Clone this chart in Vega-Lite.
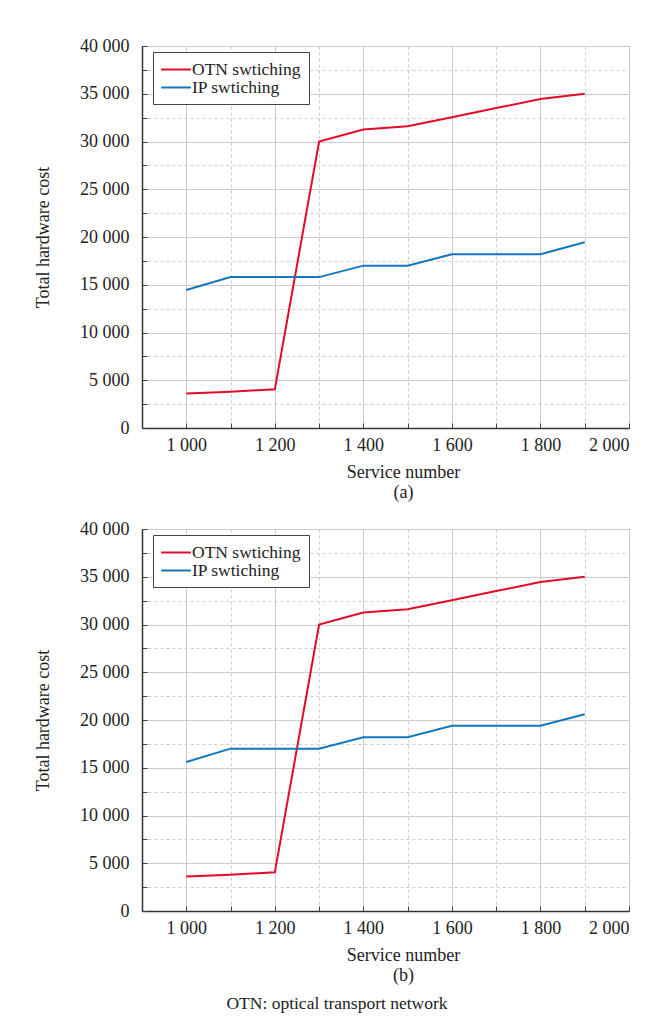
{
  "$schema": "https://vega.github.io/schema/vega-lite/v6.json",
  "padding": {"left": 34, "top": 36, "right": 5, "bottom": 5},
  "background": "white",
  "spacing": 17,
  "resolve": {"legend": {"color": "independent"}},
  "datasets": {
    "a": [
      {"service": 1000, "cost": 3600, "series": "OTN swtiching"},
      {"service": 1100, "cost": 3800, "series": "OTN swtiching"},
      {"service": 1200, "cost": 4050, "series": "OTN swtiching"},
      {"service": 1300, "cost": 30000, "series": "OTN swtiching"},
      {"service": 1400, "cost": 31250, "series": "OTN swtiching"},
      {"service": 1500, "cost": 31600, "series": "OTN swtiching"},
      {"service": 1600, "cost": 32550, "series": "OTN swtiching"},
      {"service": 1700, "cost": 33500, "series": "OTN swtiching"},
      {"service": 1800, "cost": 34450, "series": "OTN swtiching"},
      {"service": 1900, "cost": 35000, "series": "OTN swtiching"},
      {"service": 1000, "cost": 14450, "series": "IP swtiching"},
      {"service": 1100, "cost": 15800, "series": "IP swtiching"},
      {"service": 1200, "cost": 15800, "series": "IP swtiching"},
      {"service": 1300, "cost": 15800, "series": "IP swtiching"},
      {"service": 1400, "cost": 17000, "series": "IP swtiching"},
      {"service": 1500, "cost": 17000, "series": "IP swtiching"},
      {"service": 1600, "cost": 18200, "series": "IP swtiching"},
      {"service": 1700, "cost": 18200, "series": "IP swtiching"},
      {"service": 1800, "cost": 18200, "series": "IP swtiching"},
      {"service": 1900, "cost": 19450, "series": "IP swtiching"}
    ],
    "b": [
      {"service": 1000, "cost": 3600, "series": "OTN swtiching"},
      {"service": 1100, "cost": 3800, "series": "OTN swtiching"},
      {"service": 1200, "cost": 4050, "series": "OTN swtiching"},
      {"service": 1300, "cost": 30000, "series": "OTN swtiching"},
      {"service": 1400, "cost": 31250, "series": "OTN swtiching"},
      {"service": 1500, "cost": 31600, "series": "OTN swtiching"},
      {"service": 1600, "cost": 32550, "series": "OTN swtiching"},
      {"service": 1700, "cost": 33500, "series": "OTN swtiching"},
      {"service": 1800, "cost": 34450, "series": "OTN swtiching"},
      {"service": 1900, "cost": 35000, "series": "OTN swtiching"},
      {"service": 1000, "cost": 15600, "series": "IP swtiching"},
      {"service": 1100, "cost": 17000, "series": "IP swtiching"},
      {"service": 1200, "cost": 17000, "series": "IP swtiching"},
      {"service": 1300, "cost": 17000, "series": "IP swtiching"},
      {"service": 1400, "cost": 18200, "series": "IP swtiching"},
      {"service": 1500, "cost": 18200, "series": "IP swtiching"},
      {"service": 1600, "cost": 19400, "series": "IP swtiching"},
      {"service": 1700, "cost": 19400, "series": "IP swtiching"},
      {"service": 1800, "cost": 19400, "series": "IP swtiching"},
      {"service": 1900, "cost": 20600, "series": "IP swtiching"}
    ]
  },
  "config": {
    "font": "Liberation Serif",
    "view": {"stroke": "#444", "strokeWidth": 1},
    "axis": {
      "labelFont": "Liberation Serif",
      "titleFont": "Liberation Serif",
      "labelFontSize": 18,
      "titleFontSize": 18,
      "titleFontWeight": "normal",
      "labelColor": "#222",
      "titleColor": "#222",
      "domainColor": "#333",
      "domainWidth": 1.5,
      "tickColor": "#444",
      "tickSize": -5,
      "tickWidth": 1,
      "gridColor": "#cccccc",
      "gridWidth": 1
    },
    "legend": {
      "orient": "none",
      "legendX": 11,
      "legendY": 6,
      "strokeColor": "#444",
      "fillColor": "white",
      "padding": 8,
      "symbolType": "M-1.1,0H2.4",
      "symbolSize": 289,
      "symbolStrokeWidth": 2,
      "labelFont": "Liberation Serif",
      "labelFontSize": 17.5,
      "labelColor": "#222",
      "labelOffset": 12,
      "rowPadding": 0,
      "labelLimit": 300
    },
    "title": {"font": "Liberation Serif", "fontSize": 17.5, "fontWeight": "normal", "color": "#222"}
  },
  "vconcat": [
    {
      "width": 487,
      "height": 382,
      "data": {"name": "a"},
      "mark": {"type": "line", "strokeWidth": 2},
      "encoding": {
        "x": {
          "field": "service", "type": "quantitative",
          "scale": {"domain": [900, 2000], "nice": false, "zero": false},
          "axis": {
            "values": [1000, 1100, 1200, 1300, 1400, 1500, 1600, 1700, 1800, 1900, 2000],
            "labelExpr": "datum.value % 200 === 0 ? replace(format(datum.value, ','), ',', ' ') : ''",
            "labelPadding": 13,
            "gridDash": {"condition": {"test": "datum.value % 200 !== 0", "value": [3, 3]}, "value": []},
            "title": ["Service number", "(a)"],
            "titleLineHeight": 20,
            "titlePadding": 9,
            "titleX": 261
          }
        },
        "y": {
          "field": "cost", "type": "quantitative",
          "scale": {"domain": [0, 40000], "nice": false},
          "axis": {
            "values": [0, 2500, 5000, 7500, 10000, 12500, 15000, 17500, 20000, 22500, 25000, 27500, 30000, 32500, 35000, 37500, 40000],
            "labelExpr": "datum.value % 5000 === 0 ? replace(format(datum.value, ','), ',', ' ') : ''",
            "labelPadding": 18,
            "gridDash": {"condition": {"test": "datum.value % 5000 !== 0", "value": [3, 3]}, "value": []},
            "title": "Total hardware cost",
            "titlePadding": 27
          }
        },
        "color": {
          "field": "series", "type": "nominal",
          "sort": ["OTN swtiching", "IP swtiching"],
          "scale": {"domain": ["OTN swtiching", "IP swtiching"], "range": ["#e30a2a", "#1477bd"]},
          "legend": {"title": null}
        }
      }
    },
    {
      "width": 487,
      "height": 382,
      "data": {"name": "b"},
      "title": {"text": "OTN: optical transport network", "orient": "bottom", "anchor": "middle", "frame": "bounds", "offset": 11, "dx": 5},
      "mark": {"type": "line", "strokeWidth": 2},
      "encoding": {
        "x": {
          "field": "service", "type": "quantitative",
          "scale": {"domain": [900, 2000], "nice": false, "zero": false},
          "axis": {
            "values": [1000, 1100, 1200, 1300, 1400, 1500, 1600, 1700, 1800, 1900, 2000],
            "labelExpr": "datum.value % 200 === 0 ? replace(format(datum.value, ','), ',', ' ') : ''",
            "labelPadding": 13,
            "gridDash": {"condition": {"test": "datum.value % 200 !== 0", "value": [3, 3]}, "value": []},
            "title": ["Service number", "(b)"],
            "titleLineHeight": 20,
            "titlePadding": 9,
            "titleX": 261
          }
        },
        "y": {
          "field": "cost", "type": "quantitative",
          "scale": {"domain": [0, 40000], "nice": false},
          "axis": {
            "values": [0, 2500, 5000, 7500, 10000, 12500, 15000, 17500, 20000, 22500, 25000, 27500, 30000, 32500, 35000, 37500, 40000],
            "labelExpr": "datum.value % 5000 === 0 ? replace(format(datum.value, ','), ',', ' ') : ''",
            "labelPadding": 18,
            "gridDash": {"condition": {"test": "datum.value % 5000 !== 0", "value": [3, 3]}, "value": []},
            "title": "Total hardware cost",
            "titlePadding": 27
          }
        },
        "color": {
          "field": "series", "type": "nominal",
          "sort": ["OTN swtiching", "IP swtiching"],
          "scale": {"domain": ["OTN swtiching", "IP swtiching"], "range": ["#e30a2a", "#1477bd"]},
          "legend": {"title": null}
        }
      }
    }
  ]
}
